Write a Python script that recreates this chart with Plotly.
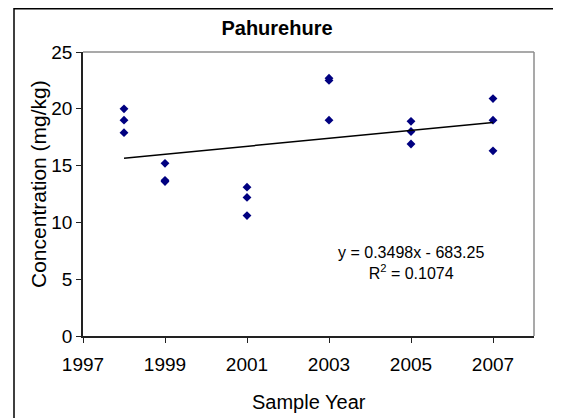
import plotly.graph_objects as go

# Data
years = [1998, 1998, 1998, 1999, 1999, 1999, 2001, 2001, 2001,
         2003, 2003, 2003, 2005, 2005, 2005, 2007, 2007, 2007]
concentration = [20.0, 19.0, 17.9, 15.2, 13.7, 13.6, 13.1, 12.2, 10.6,
                 22.7, 22.5, 19.0, 18.9, 18.0, 16.9, 20.9, 19.0, 16.3]
trend_slope = 0.3498
trend_intercept = -683.25
x_ticks = [1997, 1999, 2001, 2003, 2005, 2007]
y_ticks = [0, 5, 10, 15, 20, 25]

font_family = "Liberation Sans, Arial, sans-serif"

# The page body adds an 8px margin, so the figure is drawn 8px in from the
# window corner; size it to fill the rest of the 561x418 window.
OFF = 8
W, H = 561 - OFF, 418 - OFF
L, R, T, B = 83 - OFF, 27, 52 - OFF, 82
PW, PH = W - L - R, H - T - B


def px(x_screen):
    return (x_screen - OFF - L) / PW


def py(y_screen):
    return (H - B - (y_screen - OFF)) / PH


trend_x = [min(years), max(years)]
trend_y = [trend_slope * x + trend_intercept for x in trend_x]

fig = go.Figure()
fig.add_trace(go.Scatter(
    x=years, y=concentration, mode="markers",
    marker=dict(symbol="diamond", size=6.8, color="#000080"),
    showlegend=False, hoverinfo="x+y"))
fig.add_trace(go.Scatter(
    x=trend_x, y=trend_y, mode="lines",
    line=dict(color="black", width=1.5),
    showlegend=False, hoverinfo="skip"))

fig.update_layout(
    width=W, height=H,
    margin=dict(l=L, r=R, t=T, b=B),
    paper_bgcolor="white", plot_bgcolor="white",
    font=dict(family=font_family, color="black"),
    title=dict(text="<b>Pahurehure</b>", x=(277 - OFF) / W, xanchor="center",
               y=1 - (28 - OFF) / H, yanchor="middle",
               font=dict(size=20, family=font_family, color="black")),
    xaxis=dict(range=[1997, 2008], tickvals=x_ticks, ticktext=[str(v) for v in x_ticks],
               showgrid=False, zeroline=False, showline=True, linecolor="#222",
               linewidth=1.5, ticks="outside", ticklen=5, tickcolor="#222",
               tickfont=dict(size=19), ticklabelstandoff=5, fixedrange=True,
               automargin=False),
    yaxis=dict(range=[0, 25], tickvals=y_ticks, showgrid=False, zeroline=False,
               showline=True, linecolor="#222", linewidth=1.5, ticks="outside",
               ticklen=5, tickcolor="#222", tickfont=dict(size=19), fixedrange=True,
               automargin=False),
    shapes=[
        # grey plot-area frame (top and right)
        dict(type="line", xref="paper", yref="paper", x0=0, x1=1, y0=1, y1=1,
             line=dict(color="#8c8c8c", width=1.5), layer="below"),
        dict(type="line", xref="paper", yref="paper", x0=1, x1=1, y0=0, y1=1,
             line=dict(color="#8c8c8c", width=1.5), layer="below"),
        # outer chart frame
        dict(type="rect", xref="paper", yref="paper",
             x0=px(14), x1=px(559), y0=py(430), y1=py(8.8),
             line=dict(color="black", width=1.5), fillcolor="rgba(0,0,0,0)"),
    ],
    annotations=[
        dict(text=f"y = {trend_slope}x - {abs(trend_intercept)}<br>R<sup>2</sup> = 0.1074",
             x=px(411), y=py(263), xref="paper", yref="paper",
             xanchor="center", yanchor="middle",
             showarrow=False, align="center", font=dict(size=16)),
        dict(text="Sample Year", x=px(309), y=py(402), xref="paper", yref="paper",
             xanchor="center", yanchor="middle", showarrow=False,
             font=dict(size=20)),
        dict(text="Concentration (mg/kg)", x=px(38), y=py(184), xref="paper", yref="paper",
             xanchor="center", yanchor="middle", showarrow=False, textangle=-90,
             font=dict(size=21)),
    ],
)

fig.write_html("out.html")
